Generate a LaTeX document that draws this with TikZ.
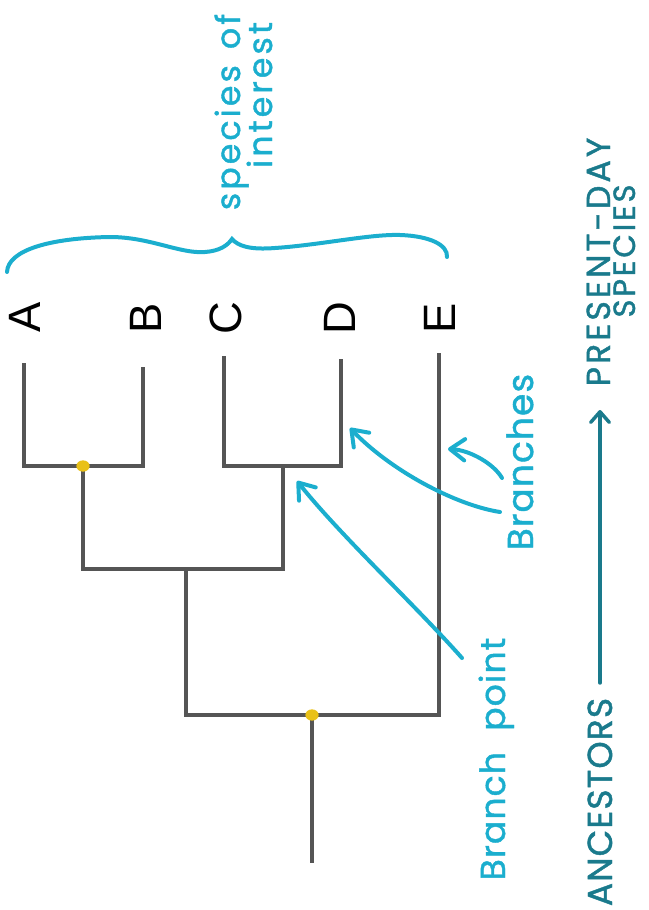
\documentclass[tikz,border=0pt]{standalone}
\usepackage{fontspec}
\usetikzlibrary{arrows.meta,shapes.geometric}
\newfontfamily\letterfont{Liberation Sans}
\newfontfamily\handfont[FakeBold=1.2,LetterSpace=3]{Poppins}
\newfontfamily\handwide[FakeBold=1.2,LetterSpace=9]{Poppins}
\definecolor{treegray}{HTML}{555555}
\definecolor{hcyan}{HTML}{1BAECE}
\definecolor{hteal}{HTML}{1A7A8C}
\definecolor{dotyellow}{HTML}{E9C118}
\tikzset{
  treeline/.style={draw=treegray, line width=3pt},
  leaflabel/.style={inner sep=0pt, rotate=90, font=\letterfont\fontsize{34}{40}\selectfont},
  handlabel/.style={inner sep=0pt, rotate=90, anchor=base, text=hcyan},
  teallabel/.style={inner sep=0pt, rotate=90, anchor=base, text=hteal, text depth=0pt},
  pointer/.style={draw=hcyan, line width=3pt, line cap=round, -{Straight Barb[length=11pt,width=16pt,round]}},
  bdot/.style={fill=dotyellow, draw=none, ellipse, minimum width=10pt, minimum height=8.5pt, inner sep=0pt},
}
\begin{document}
\begin{tikzpicture}[x=0.75pt,y=-0.75pt]
\useasboundingbox (0,0) rectangle (649,910);
% tree coordinates
\coordinate (At) at (24,363);
\coordinate (Ab) at (24,466);
\coordinate (Bt) at (143,367);
\coordinate (Bb) at (143,466);
\coordinate (Ct) at (224,356);
\coordinate (Cb) at (224,466);
\coordinate (Dt) at (341,359);
\coordinate (Db) at (341,466);
\coordinate (Et) at (439,353);
\coordinate (Eb) at (439,715);
\coordinate (ABn) at (83,466);
\coordinate (ABs) at (83,569);
\coordinate (CDn) at (283,466);
\coordinate (CDs) at (283,569);
\coordinate (Mn) at (186,569);
\coordinate (Ms) at (186,715);
\coordinate (R) at (312,715);
\coordinate (Rb) at (312,863);
% leaves
\draw[treeline] (At) -- (Ab) -- (Bb) -- (Bt);
\draw[treeline] (Ct) -- (Cb) -- (Db) -- (Dt);
\draw[treeline] (ABn) -- (ABs) -- (CDs) -- (CDn);
\draw[treeline] (Mn) -- (Ms) -- (Eb) -- (Et);
\draw[treeline] (R) -- (Rb);
\node[bdot] (dot1) at (ABn) {};
\node[bdot] (dot2) at (R) {};
% leaf labels
\node[leaflabel] (A) at (25,317) {A};
\node[leaflabel] (B) at (146,318) {B};
\node[leaflabel] (C) at (226,318) {C};
\node[leaflabel] (D) at (340,318) {D};
\node[leaflabel] (E) at (440,318) {E};
% brace
\draw[hcyan, line width=3pt, line cap=round]
  (7,272) .. controls (8,250) and (50,238) .. (110,237)
  .. controls (150,237) and (180,254) .. (205,252)
  .. controls (220,251) and (228,245) .. (232,239)
  .. controls (238,246) and (250,250) .. (275,248)
  .. controls (320,245) and (370,234) .. (400,235)
  .. controls (430,236) and (448,245) .. (447,257);
\node[handlabel, font=\handwide\fontsize{25}{30}\selectfont] (soi1) at (240,112) {species\hspace{12pt}of};
\node[handlabel, font=\handwide\fontsize{25}{30}\selectfont] (soi2) at (272,95) {interest};
% pointer labels
\node[handlabel, font=\handfont\fontsize{27}{32}\selectfont] (br) at (533,462) {Branches};
\node[handlabel, font=\handfont\fontsize{26}{32}\selectfont] (bp) at (505,759) {Branch\hspace{16pt}point};
\coordinate (brs1) at (500,512);
\coordinate (brt1) at (350,428);
\coordinate (brs2) at (502,478);
\coordinate (brt2) at (448,449);
\coordinate (bps) at (462,658);
\coordinate (bpt) at (297,481);
\draw[pointer] (brs1) .. controls (455,505) and (390,470) .. (brt1);
\draw[pointer] (brs2) .. controls (494,464) and (470,450) .. (brt2);
\draw[pointer] (bps) .. controls (415,605) and (340,535) .. (bpt);
% time axis
\node[teallabel, font=\handfont\fontsize{26}{30}\selectfont] (anc) at (612,802) {ANCESTORS};
\node[teallabel, font=\handwide\fontsize{25}{30}\selectfont] (pd1) at (610,262) {PRESENT-DAY};
\node[teallabel, font=\handwide\fontsize{23}{30}\selectfont] (pd2) at (635,251) {SPECIES};
\coordinate (ts) at (600,683);
\coordinate (te) at (600,410);
\draw[hteal, line width=2.6pt, line cap=round, -{Straight Barb[length=8pt,width=14pt,round]}] (ts) -- (te);
\end{tikzpicture}
\end{document}
